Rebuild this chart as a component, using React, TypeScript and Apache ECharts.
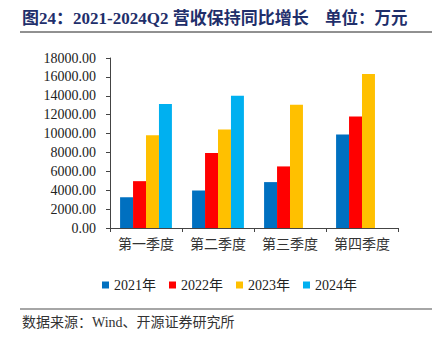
import React, { useEffect, useRef } from "react";
import * as echarts from "echarts";

const categories = ["第一季度", "第二季度", "第三季度", "第四季度"];
const seriesNames = ["2021年", "2022年", "2023年", "2024年"];
const v2021 = [3260, 3970, 4860, 9890];
const v2022 = [4960, 7940, 6520, 11810];
const v2023 = [9820, 10420, 13050, 16310];
const v2024 = [13120, 14000, null, null];
const colors = ["#0070C0", "#FF0000", "#FFC000", "#00B0F0"];

const FONT = "'Liberation Serif', 'Noto Sans CJK SC', serif";

export default function App() {
  const ref = useRef<HTMLDivElement>(null);
  useEffect(() => {
    if (!ref.current) return;
    const chart = echarts.init(ref.current, null, { renderer: "svg" });
    const data = [v2021, v2022, v2023, v2024];
    chart.setOption({
      animation: false,
      backgroundColor: "#ffffff",
      textStyle: { fontFamily: FONT },
      grid: { left: 110, right: 37, top: 58, bottom: 116, containLabel: false },
      legend: {
        left: 97,
        top: 273,
        itemWidth: 7,
        itemHeight: 7,
        itemGap: 13,
        icon: "rect",
        textStyle: { fontFamily: FONT, fontSize: 14, color: "#222" },
        data: seriesNames,
      },
      xAxis: {
        type: "category",
        data: categories,
        axisLine: { lineStyle: { color: "#444", width: 1 } },
        axisTick: { show: true, length: 4, lineStyle: { color: "#444" } },
        axisLabel: { interval: 0, fontFamily: FONT, fontSize: 14, color: "#333", margin: 9 },
      },
      yAxis: {
        type: "value",
        min: 0,
        max: 18000,
        interval: 2000,
        axisLine: { show: true, lineStyle: { color: "#444" } },
        axisTick: { show: true, length: 4, inside: false, lineStyle: { color: "#444" } },
        splitLine: { show: false },
        axisLabel: {
          fontFamily: FONT,
          fontSize: 14,
          color: "#222",
          margin: 14,
          formatter: (v: number) => v.toFixed(2),
        },
      },
      series: seriesNames.map((n, i) => ({
        name: n,
        type: "bar",
        data: data[i],
        barGap: "0%",
        barCategoryGap: "28%",
        itemStyle: { color: colors[i] },
      })),
      graphic: [
        {
          type: "text",
          left: 22,
          top: 10,
          style: {
            text: "图24：2021-2024Q2 营收保持同比增长",
            font: "bold 17px 'Liberation Serif', 'Noto Sans CJK SC', serif",
            fill: "#1F2F6B",
          },
        },
        {
          type: "text",
          left: 325,
          top: 10,
          style: {
            text: "单位：万元",
            font: "bold 16.5px 'Liberation Serif', 'Noto Sans CJK SC', serif",
            fill: "#1F2F6B",
          },
        },
        {
          type: "line",
          shape: { x1: 20, y1: 32, x2: 432, y2: 32 },
          style: { stroke: "#222", lineWidth: 1 },
        },
        {
          type: "line",
          shape: { x1: 20, y1: 309, x2: 432, y2: 309 },
          style: { stroke: "#888", lineWidth: 1.5 },
        },
        {
          type: "text",
          left: 22,
          top: 315,
          style: {
            text: "数据来源：Wind、开源证券研究所",
            font: "14px 'Liberation Serif', 'Noto Sans CJK SC', serif",
            fill: "#333",
          },
        },
      ],
    });
    return () => chart.dispose();
  }, []);
  return <div ref={ref} style={{ width: 435, height: 344, position: "absolute", left: 0, top: 0 }} />;
}
